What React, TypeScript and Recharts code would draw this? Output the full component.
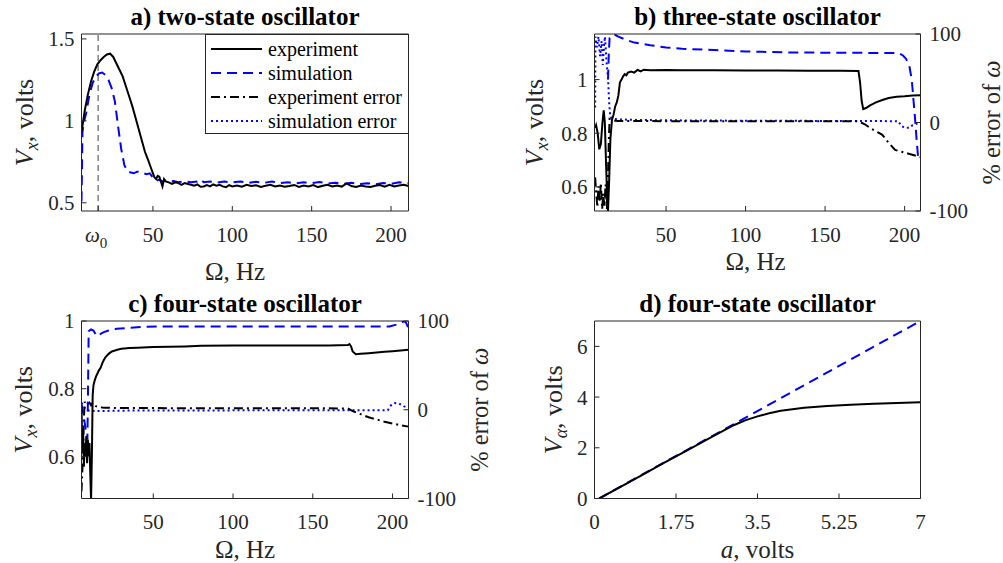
import type { ReactNode } from 'react';
import { Legend, Line, LineChart, ReferenceLine, XAxis, YAxis } from 'recharts';

const FONT = '"Liberation Serif", "Times New Roman", serif';
const AXIS = '#262626';
const BLUE = '#0000ff';

type Pair = [number, number];
type Kind = 'exp' | 'sim' | 'expErr' | 'simErr';

// a) two-state oscillator: V_x (volts) against Omega (Hz)
const OMEGA0 = 15.5;
const A_EXP: Pair[] = [
  [5, 0.93], [7, 1.06], [9, 1.16], [11, 1.24], [13, 1.3], [15, 1.345], [17, 1.37], [19, 1.39],
  [21, 1.405], [23, 1.41], [25, 1.39], [27, 1.35], [29, 1.31], [31, 1.27], [33, 1.21], [35, 1.15],
  [37, 1.09], [39, 1.02], [41, 0.95], [43, 0.88], [45, 0.81], [47, 0.76], [48.5, 0.72], [50, 0.68],
  [51, 0.655], [52, 0.645], [53, 0.665], [54, 0.66], [55, 0.63], [56, 0.6], [57, 0.645], [58, 0.63],
  [60, 0.625], [62, 0.615], [64, 0.625], [66, 0.62], [68, 0.61], [70, 0.62], [72, 0.615], [74, 0.61],
  [76, 0.605], [78, 0.612], [80, 0.598], [82, 0.6], [84, 0.608], [86, 0.6], [88, 0.612], [90, 0.605],
  [92, 0.61], [94, 0.6], [96, 0.595], [98, 0.608], [100, 0.6], [103, 0.605], [106, 0.598], [109, 0.61],
  [112, 0.602], [115, 0.607], [118, 0.597], [121, 0.604], [124, 0.61], [127, 0.6], [130, 0.606],
  [133, 0.598], [136, 0.603], [139, 0.609], [142, 0.597], [145, 0.605], [148, 0.6], [151, 0.608],
  [154, 0.596], [157, 0.604], [160, 0.61], [163, 0.6], [166, 0.606], [169, 0.599], [172, 0.618],
  [175, 0.602], [178, 0.597], [181, 0.606], [184, 0.6], [187, 0.596], [190, 0.604], [193, 0.609],
  [196, 0.598], [199, 0.61], [202, 0.6], [205, 0.605], [208, 0.61], [211, 0.603],
];
const A_SIM: Pair[] = [
  [5, 0.51], [5.3, 0.7], [5.6, 0.93], [6.5, 0.99], [8, 1.05], [10, 1.16], [12, 1.23], [14, 1.27],
  [16, 1.29], [18, 1.295], [20, 1.28], [22, 1.25], [24, 1.2], [26, 1.12], [28, 0.97], [30, 0.83],
  [32, 0.73], [34, 0.69], [36, 0.685], [38, 0.68], [40, 0.69], [42, 0.688], [44, 0.68], [46, 0.675],
  [48, 0.68], [50, 0.655], [52, 0.635], [54, 0.64], [56, 0.63], [58, 0.636], [60, 0.628], [63, 0.633],
  [66, 0.626], [70, 0.632], [74, 0.625], [78, 0.63], [80, 0.642], [82, 0.626], [86, 0.63], [90, 0.622],
  [95, 0.63], [100, 0.624], [105, 0.63], [110, 0.621], [115, 0.628], [120, 0.622], [125, 0.63],
  [130, 0.62], [135, 0.626], [140, 0.618], [145, 0.625], [150, 0.62], [155, 0.627], [160, 0.618],
  [165, 0.623], [170, 0.616], [175, 0.622], [180, 0.614], [185, 0.62], [190, 0.612], [195, 0.621],
  [200, 0.615], [205, 0.626], [211, 0.62],
];

// b) three-state oscillator
const B_EXP: Pair[] = [
  [5.4, 0.82], [6, 0.83], [7, 0.8], [8, 0.74], [9, 0.76], [10, 0.84], [10.8, 0.885], [11.5, 0.84],
  [12.2, 0.7], [13, 0.55], [13.5, 0.51], [14.2, 0.62], [15, 0.78], [16, 0.85], [17, 0.87], [18, 0.9],
  [19, 0.915], [20, 0.94], [21, 0.99], [22, 1.0], [23, 1.012], [24, 1.02], [25, 1.016], [26, 1.026],
  [28, 1.03], [30, 1.026], [32, 1.036], [34, 1.031], [36, 1.037], [40, 1.035], [50, 1.036], [60, 1.035],
  [80, 1.035], [100, 1.034], [120, 1.034], [140, 1.033], [160, 1.033], [171, 1.032], [172, 0.99],
  [173, 0.92], [174, 0.89], [176, 0.895], [178, 0.903], [182, 0.915], [186, 0.924], [190, 0.931],
  [195, 0.936], [200, 0.938], [205, 0.941], [210, 0.942],
];
const B_SIM: Pair[] = [
  [13.5, 1.0], [14, 1.1], [14.5, 1.155], [16, 1.167], [18, 1.167], [20, 1.16], [25, 1.148], [30, 1.138],
  [40, 1.128], [50, 1.12], [60, 1.115], [80, 1.11], [100, 1.105], [130, 1.101], [160, 1.1], [196, 1.099],
  [199, 1.09], [201, 1.077], [203, 1.05], [204.5, 1.0], [205.5, 0.93], [206.5, 0.86], [207.5, 0.78],
  [208.5, 0.71], [210, 0.7],
];
const B_EXP_ERR: Pair[] = [
  [5.4, -62], [6, -78], [6.8, -96], [7.5, -72], [8.3, -90], [9, -68], [9.8, -98], [10.5, -80],
  [11.2, -95], [12, -70], [12.8, -98], [13.5, -60], [14, -20], [14.5, 4], [16, 3], [18, 2], [20, 1.8],
  [30, 1.6], [60, 1.5], [100, 1.5], [140, 1.4], [171, 1.3], [175, -2], [179, -7], [183, -11],
  [186, -14], [190, -23], [194, -31], [198, -33], [202, -35], [206, -37], [210, -39],
];
const B_SIM_ERR: Pair[] = [
  [5.4, 17], [5.6, 97], [6.5, 85], [7.5, 97], [8.5, 75], [9.5, 92], [10.2, 65], [11, 88], [11.6, 97],
  [12.5, 70], [13.5, 50], [14.3, 20], [15, 6], [17, 4], [20, 3.5], [30, 3], [50, 2.5], [100, 2],
  [150, 1.8], [196, 1.5], [198, -4], [200, -6], [203, -6], [205, -3], [208, -1], [210, 0],
];

// c) four-state oscillator
const C_EXP: Pair[] = [
  [5, 0.75], [5.5, 0.62], [6, 0.68], [6.5, 0.57], [7, 0.64], [7.5, 0.6], [8, 0.66], [8.5, 0.58],
  [9, 0.65], [9.5, 0.6], [10, 0.64], [10.5, 0.55], [11, 0.47], [11.5, 0.6], [12, 0.78], [12.5, 0.81],
  [13, 0.82], [14, 0.835], [15, 0.845], [16, 0.855], [17, 0.862], [18, 0.875], [19, 0.885], [20, 0.893],
  [22, 0.903], [24, 0.91], [26, 0.913], [28, 0.916], [30, 0.918], [35, 0.92], [40, 0.921], [50, 0.923],
  [60, 0.924], [70, 0.925], [80, 0.927], [100, 0.928], [120, 0.928], [140, 0.928], [160, 0.928],
  [172, 0.929], [173, 0.932], [174, 0.925], [175, 0.91], [177, 0.902], [180, 0.903], [185, 0.905],
  [190, 0.907], [195, 0.909], [200, 0.911], [205, 0.913], [210, 0.915],
];
const C_SIM: Pair[] = [
  [5, 0.755], [6, 0.73], [7, 0.7], [8, 0.665], [8.7, 0.65], [9.1, 0.8], [9.5, 0.97], [11, 0.975],
  [12.5, 0.972], [14, 0.96], [15.5, 0.955], [17, 0.962], [19, 0.967], [22, 0.972], [27, 0.977],
  [35, 0.98], [45, 0.983], [60, 0.984], [100, 0.984], [150, 0.984], [198, 0.984], [203, 0.99],
  [207.5, 1.0], [208.5, 0.995], [210, 0.978],
];
const C_EXP_ERR: Pair[] = [
  [5, -92], [5.5, -70], [6, -45], [6.5, -10], [7, 9], [8, 5], [9, 7], [10, 8], [11, 5], [12, 8],
  [13, 6], [14, 4], [16, 3], [18, 2.5], [20, 2.2], [30, 2], [60, 1.8], [100, 1.7], [150, 1.6],
  [172, 1.5], [175, -1.5], [180, -5], [185, -8.5], [190, -11], [195, -13.5], [200, -15.5],
  [205, -17.5], [210, -19],
];
const C_SIM_ERR: Pair[] = [
  [5, 8], [6, 5], [7, 2], [8, 0], [10, -1], [15, -1.5], [30, -1], [60, -0.8], [100, -0.7],
  [150, -0.7], [197, -0.5], [199, 5], [201, 7.5], [204, 7], [207, 4], [210, 2],
];

// d) four-state oscillator: V_alpha against a
const D_SIM: Pair[] = [[0.1, 0], [1, 0.92], [2, 1.93], [3, 2.94], [4, 3.96], [5, 4.97], [6, 5.99], [7, 7]];
const D_EXP: Pair[] = [
  [0.1, 0], [0.5, 0.4], [1, 0.9], [1.5, 1.41], [1.75, 1.66], [2, 1.91], [2.5, 2.41], [3, 2.9],
  [3.25, 3.09], [3.5, 3.24], [3.75, 3.36], [4, 3.46], [4.5, 3.58], [5, 3.65], [5.5, 3.7], [6, 3.74],
  [6.5, 3.77], [7, 3.8],
];

const HZ_TICKS = [50, 100, 150, 200];
const A_X_TICKS = [OMEGA0, 50, 100, 150, 200];
const A_Y_TICKS = [0.5, 1, 1.5];
const BC_Y_TICKS = [0.6, 0.8, 1];
const ERR_TICKS = [-100, 0, 100];
const D_X_TICKS = [0, 1.75, 3.5, 5.25, 7];
const D_Y_TICKS = [0, 2, 4, 6];

const LEGEND_NAMES = ['experiment', 'simulation', 'experiment error', 'simulation error'];
const LEGEND_KINDS: Kind[] = ['exp', 'sim', 'expErr', 'simErr'];

const STYLE: Record<Kind, { stroke: string; dash?: string }> = {
  exp: { stroke: '#000' },
  sim: { stroke: BLUE, dash: '10 6' },
  expErr: { stroke: '#000', dash: '9 4 2 4' },
  simErr: { stroke: BLUE, dash: '2 3' },
};

const WL = 50;
const WR = 50;
const HB = 40;
const HT = 1;
const LABEL_SIZE = 26;
const X_LABEL_SIZE = 25;
const TICK = { fill: AXIS, fontSize: 21, fontFamily: FONT };

const toPoints = (pairs: Pair[]) => pairs.map(([x, y]) => ({ x, y }));

function LegendBox() {
  return (
    <div
      style={{
        border: `1px solid ${AXIS}`,
        background: '#fff',
        padding: '2px 0',
        fontFamily: FONT,
        fontSize: 20,
        color: '#000',
        boxSizing: 'border-box',
        width: 204,
        height: 100,
      }}
    >
      {LEGEND_NAMES.map((name, i) => {
        const st = STYLE[LEGEND_KINDS[i]];
        return (
          <div key={name} style={{ display: 'flex', alignItems: 'center', height: 24 }}>
            <svg width={62} height={24} style={{ flex: 'none' }}>
              <line x1={5} x2={56} y1={12} y2={12} stroke={st.stroke} strokeWidth={2} strokeDasharray={st.dash} />
            </svg>
            <span style={{ lineHeight: '24px', whiteSpace: 'nowrap' }}>{name}</span>
          </div>
        );
      })}
    </div>
  );
}

function OmegaTick(props: any) {
  const { x, y, payload } = props;
  if (payload.value === OMEGA0) {
    return (
      <text x={x - 2} y={y + 15} textAnchor="middle" {...TICK}>
        <tspan fontStyle="italic">ω</tspan>
        <tspan fontSize={15} dy={6}>0</tspan>
      </text>
    );
  }
  return (
    <text x={x} y={y + 15} textAnchor="middle" {...TICK}>
      {payload.value}
    </text>
  );
}

const titleLabel = (text: string) => (props: any) => {
  const vb = props.viewBox;
  return (
    <text x={vb.x + vb.width / 2} y={vb.y - 8} textAnchor="middle" fontFamily={FONT} fontSize={25} fontWeight="bold" fill="#000">
      {text}
    </text>
  );
};

const xLabel = (node: ReactNode, dx: number, dy: number) => (props: any) => {
  const vb = props.viewBox;
  return (
    <text x={vb.x + vb.width / 2 + dx} y={vb.y + dy} textAnchor="middle" fontFamily={FONT} fontSize={X_LABEL_SIZE} fill={AXIS}>
      {node}
    </text>
  );
};

const yLabel = (node: ReactNode, side: 'left' | 'right', off: number, size: number) => (props: any) => {
  const vb = props.viewBox;
  const bx = side === 'left' ? vb.x + vb.width - off : vb.x + off;
  const cy = vb.y + vb.height / 2;
  return (
    <text x={bx} y={cy} transform={`rotate(-90 ${bx} ${cy})`} textAnchor="middle" fontFamily={FONT} fontSize={size} fill={AXIS}>
      {node}
    </text>
  );
};

const VX = (
  <>
    <tspan fontStyle="italic">V</tspan>
    <tspan fontStyle="italic" fontSize={18} dy={5}>x</tspan>
    <tspan dy={-5}>, volts</tspan>
  </>
);
const VALPHA = (
  <>
    <tspan fontStyle="italic">V</tspan>
    <tspan fontStyle="italic" fontSize={18} dy={5}>α</tspan>
    <tspan dy={-5}>, volts</tspan>
  </>
);
const HZ = <tspan>Ω, Hz</tspan>;
const AVOLTS = (
  <>
    <tspan fontStyle="italic">a</tspan>
    <tspan>, volts</tspan>
  </>
);
const ERR = (
  <>
    <tspan>% error of </tspan>
    <tspan fontStyle="italic">ω</tspan>
  </>
);

interface Series {
  points: Pair[];
  kind: Kind;
  axis?: 'left' | 'right';
}

interface PanelProps {
  box: { x: number; y: number; w: number; h: number };
  plot: { l: number; t: number; r: number; b: number };
  title: string;
  xDomain: [number, number];
  xTicks: number[];
  xTick?: any;
  yDomain: [number, number];
  yTicks: number[];
  rDomain?: [number, number];
  rTicks?: number[];
  xText: ReactNode;
  xDx: number;
  xDy: number;
  yText: ReactNode;
  yOff: number;
  rText?: ReactNode;
  series: Series[];
  children?: ReactNode;
}

function Panel(p: PanelProps) {
  const { box, plot } = p;
  const margin = {
    left: plot.l - box.x - WL,
    top: plot.t - box.y - HT,
    right: box.x + box.w - plot.r - WR,
    bottom: box.y + box.h - plot.b - HB,
  };
  const hasRight = !!p.rDomain;
  return (
    <div style={{ position: 'absolute', left: box.x, top: box.y, width: box.w, height: box.h }}>
      <LineChart width={box.w} height={box.h} margin={margin}>
        <XAxis
          xAxisId="x"
          dataKey="x"
          type="number"
          domain={p.xDomain}
          ticks={p.xTicks}
          allowDataOverflow
          height={HB}
          stroke={AXIS}
          tickSize={-5}
          tickMargin={21}
          tick={p.xTick ?? TICK}
          interval={0}
          label={{ content: xLabel(p.xText, p.xDx, p.xDy) }}
        />
        <XAxis
          xAxisId="top"
          orientation="top"
          dataKey="x"
          type="number"
          domain={p.xDomain}
          ticks={p.xTicks}
          allowDataOverflow
          height={HT}
          stroke={AXIS}
          tickSize={-5}
          tick={false}
          interval={0}
          label={{ content: titleLabel(p.title) }}
        />
        <YAxis
          yAxisId="left"
          type="number"
          domain={p.yDomain}
          ticks={p.yTicks}
          allowDataOverflow
          width={WL}
          stroke={AXIS}
          tickSize={-5}
          tickMargin={12}
          tick={TICK}
          interval={0}
          label={{ content: yLabel(p.yText, 'left', p.yOff, LABEL_SIZE) }}
        />
        <YAxis
          yAxisId="right"
          orientation="right"
          type="number"
          domain={p.rDomain ?? p.yDomain}
          ticks={p.rTicks ?? p.yTicks}
          allowDataOverflow
          width={WR}
          stroke={AXIS}
          tickSize={-5}
          tickMargin={14}
          tick={hasRight ? TICK : false}
          interval={0}
          label={hasRight ? { content: yLabel(p.rText, 'right', 79, 24.5) } : undefined}
        />
        {p.children}
        {p.series.map((s, i) => (
          <Line
            key={i}
            data={toPoints(s.points)}
            dataKey="y"
            xAxisId="x"
            yAxisId={s.axis ?? 'left'}
            type="linear"
            stroke={STYLE[s.kind].stroke}
            strokeDasharray={STYLE[s.kind].dash}
            strokeWidth={2}
            dot={false}
            activeDot={false}
            isAnimationActive={false}
          />
        ))}
      </LineChart>
    </div>
  );
}

export default function App() {
  return (
    <div style={{ position: 'absolute', left: 0, top: 0, width: 1003, height: 563, background: '#fff' }}>
      <Panel
        box={{ x: 0, y: 0, w: 500, h: 292 }}
        plot={{ l: 81.5, t: 34, r: 408.5, b: 211 }}
        title="a) two-state oscillator"
        xDomain={[5, 211]}
        xTicks={A_X_TICKS}
        xTick={OmegaTick}
        yDomain={[0.45, 1.53]}
        yTicks={A_Y_TICKS}
        xText={HZ}
        xDx={-10}
        xDy={69}
        yText={VX}
        yOff={48.5}
        series={[
          { points: A_SIM, kind: 'sim' },
          { points: A_EXP, kind: 'exp' },
        ]}
      >
        <ReferenceLine x={OMEGA0} xAxisId="x" yAxisId="left" stroke="#808080" strokeWidth={1.5} strokeDasharray="6 4" />
        <Legend
          layout="vertical"
          align="center"
          verticalAlign="middle"
          wrapperStyle={{ left: 205, top: 34, width: 204, height: 100 }}
          content={() => <LegendBox />}
        />
      </Panel>
      <Panel
        box={{ x: 500, y: 0, w: 503, h: 292 }}
        plot={{ l: 594.5, t: 34, r: 920.5, b: 211 }}
        title="b) three-state oscillator"
        xDomain={[5, 210]}
        xTicks={HZ_TICKS}
        yDomain={[0.51, 1.17]}
        yTicks={BC_Y_TICKS}
        rDomain={[-100, 100]}
        rTicks={ERR_TICKS}
        xText={HZ}
        xDx={-2}
        xDy={59}
        yText={VX}
        yOff={51.5}
        rText={ERR}
        series={[
          { points: B_SIM_ERR, kind: 'simErr', axis: 'right' },
          { points: B_EXP_ERR, kind: 'expErr', axis: 'right' },
          { points: B_SIM, kind: 'sim' },
          { points: B_EXP, kind: 'exp' },
        ]}
      />
      <Panel
        box={{ x: 0, y: 282, w: 500, h: 281 }}
        plot={{ l: 81.5, t: 321, r: 408.5, b: 498.5 }}
        title="c) four-state oscillator"
        xDomain={[5, 210]}
        xTicks={HZ_TICKS}
        yDomain={[0.476, 1.0]}
        yTicks={BC_Y_TICKS}
        rDomain={[-100, 100]}
        rTicks={ERR_TICKS}
        xText={HZ}
        xDx={0}
        xDy={59}
        yText={VX}
        yOff={49.5}
        rText={ERR}
        series={[
          { points: C_SIM_ERR, kind: 'simErr', axis: 'right' },
          { points: C_EXP_ERR, kind: 'expErr', axis: 'right' },
          { points: C_SIM, kind: 'sim' },
          { points: C_EXP, kind: 'exp' },
        ]}
      />
      <Panel
        box={{ x: 500, y: 282, w: 503, h: 281 }}
        plot={{ l: 594.5, t: 321, r: 920.5, b: 498.5 }}
        title="d) four-state oscillator"
        xDomain={[0, 7]}
        xTicks={D_X_TICKS}
        yDomain={[0, 7]}
        yTicks={D_Y_TICKS}
        xText={AVOLTS}
        xDx={0}
        xDy={59}
        yText={VALPHA}
        yOff={32.5}
        series={[
          { points: D_SIM, kind: 'sim' },
          { points: D_EXP, kind: 'exp' },
        ]}
      />
    </div>
  );
}
